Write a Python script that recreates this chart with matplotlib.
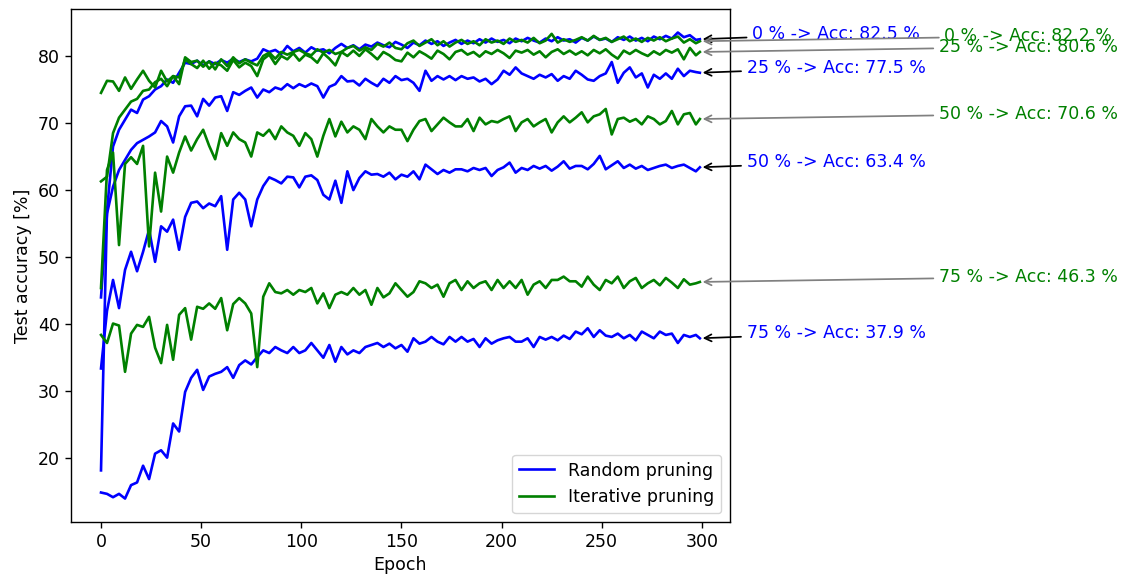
import matplotlib
matplotlib.use("Agg")
import matplotlib.pyplot as plt

# Epochs sampled every 3 epochs plus the final epoch
epochs = list(range(0, 300, 3)) + [299]

random_0 = [
    18.2, 57.0, 66.5, 69.0, 70.5, 72.0, 71.5, 73.5, 74.0, 75.0,
    75.5, 76.5, 76.0, 77.5, 79.0, 78.8, 79.3, 78.6, 79.2, 78.8,
    79.4, 79.0, 79.6, 79.1, 79.5, 79.2, 79.6, 81.0, 80.6, 80.9,
    80.3, 81.5, 80.7, 81.2, 80.5, 81.3, 80.8, 81.0, 80.4, 81.2,
    81.8, 81.2, 81.6, 81.0, 81.7, 81.4, 82.0, 81.6, 81.3, 82.1,
    81.7, 81.2, 82.0, 81.6, 82.3, 81.8, 82.2, 81.5, 82.0, 82.4,
    81.8, 82.3, 81.9, 82.5, 82.0, 82.6, 82.1, 82.4, 81.9, 82.6,
    82.2, 82.7, 82.3, 82.0, 82.6, 82.2, 82.8, 82.3, 82.5, 82.0,
    82.7, 82.3, 82.9, 82.4, 82.6, 82.1, 82.8, 82.4, 82.9, 82.3,
    82.7, 82.2, 82.9, 82.5, 83.0, 82.6, 83.5, 82.8, 83.1, 82.4,
    82.5]
random_25 = [
    44.0, 56.5, 60.5, 63.0, 64.5, 66.0, 67.0, 67.5, 68.0, 68.6,
    70.3, 69.5, 67.1, 71.0, 72.5, 72.6, 71.0, 73.6, 72.6, 73.8,
    74.0, 71.8, 74.6, 74.2, 74.8, 75.3, 73.8, 75.0, 74.6, 75.3,
    75.0, 75.8, 75.2, 75.8, 75.4, 75.9, 75.5, 73.8, 75.4, 75.8,
    77.0, 76.2, 76.3, 75.6, 76.6, 76.0, 75.5, 76.6, 76.0, 77.0,
    76.4, 76.6, 76.0, 74.8, 77.8, 76.3, 77.0, 76.5, 77.0, 76.4,
    77.0, 76.6, 76.8, 76.2, 76.6, 75.8, 76.5, 77.8, 77.2, 78.3,
    77.4, 77.0, 76.6, 77.2, 76.8, 77.3, 76.3, 77.0, 76.6, 77.8,
    77.2, 76.5, 76.3, 77.0, 77.4, 79.1, 76.0, 77.5, 78.3, 76.8,
    77.4, 75.3, 77.2, 76.6, 77.4, 76.6, 78.1, 77.0, 77.8, 77.6,
    77.5]
random_50 = [
    33.4, 42.0, 46.6, 42.4, 48.1, 50.8, 47.9, 50.8, 54.1, 49.3,
    54.6, 53.8, 55.6, 51.1, 56.0, 58.1, 58.3, 57.3, 58.0, 57.6,
    59.1, 51.1, 58.6, 59.6, 58.6, 54.6, 58.6, 60.6, 61.9, 61.5,
    61.0, 62.0, 61.9, 60.4, 62.0, 62.2, 61.5, 59.3, 58.6, 61.4,
    58.1, 62.8, 60.0, 61.8, 62.8, 62.3, 62.4, 62.0, 62.6, 61.6,
    62.3, 62.0, 62.8, 61.6, 63.8, 63.1, 62.4, 63.0, 62.6, 63.1,
    63.1, 62.8, 63.3, 63.0, 63.3, 62.1, 63.0, 63.4, 64.1, 62.6,
    63.3, 63.0, 63.6, 63.2, 63.6, 62.9, 63.5, 64.3, 63.2, 63.6,
    63.6, 63.1, 63.9, 65.1, 63.1, 63.7, 64.3, 63.3, 63.8, 63.2,
    63.6, 63.0, 63.3, 63.6, 63.8, 63.3, 63.6, 63.8, 63.3, 62.8,
    63.4]
random_75 = [
    14.9, 14.7, 14.2, 14.7, 14.0, 16.0, 16.4, 18.9, 16.9, 20.7,
    21.2, 20.1, 25.2, 24.0, 29.9, 32.0, 33.2, 30.2, 32.2, 32.6,
    32.9, 33.6, 32.0, 33.9, 34.6, 34.0, 35.1, 36.1, 35.7, 36.6,
    36.1, 35.7, 36.6, 35.7, 36.1, 37.2, 36.1, 35.0, 36.9, 34.4,
    36.6, 35.5, 36.1, 35.7, 36.6, 36.9, 37.2, 36.6, 37.1, 36.4,
    36.9, 35.9, 37.9, 37.1, 37.4, 38.1, 37.4, 37.0, 38.1, 37.4,
    38.1, 37.4, 37.8, 36.6, 37.9, 37.1, 37.6, 37.9, 38.1, 37.4,
    37.4, 37.9, 36.6, 38.1, 37.7, 38.1, 37.6, 38.3, 37.8, 38.9,
    38.5, 39.4, 38.1, 39.1, 38.3, 38.1, 38.6, 37.9, 38.4, 37.6,
    38.9, 38.4, 37.9, 38.9, 38.4, 38.6, 37.2, 38.4, 38.1, 38.4,
    37.9]

iterative_0 = [
    74.5, 76.3, 76.2, 74.8, 76.8, 75.1, 76.5, 77.8, 76.3, 75.3,
    77.8, 76.2, 77.0, 75.8, 79.8, 79.1, 79.3, 78.4, 79.2, 78.0,
    79.5, 78.5, 79.8, 78.9, 79.5, 79.0, 78.6, 80.0, 80.5, 79.6,
    80.6, 80.2, 80.6, 80.9, 80.4, 80.1, 81.0, 80.5, 80.9, 80.3,
    80.6, 81.2, 81.5, 80.8, 81.3, 80.9, 81.8, 81.4, 82.0, 81.2,
    81.0, 81.9, 82.3, 81.5, 82.0, 82.5, 81.6, 82.2, 81.4, 82.0,
    82.4, 81.8, 82.2, 81.6, 82.5, 82.0, 82.3, 81.8, 82.6, 82.1,
    82.4, 82.0, 82.7, 81.9, 82.3, 83.3, 82.0, 82.5, 82.1, 82.4,
    82.8, 82.3, 83.0, 82.4, 82.7, 82.1, 82.5, 82.9, 82.2, 82.6,
    82.1, 82.7, 82.3, 82.8, 82.2, 82.6, 82.9, 82.0, 82.5, 81.9,
    82.2]
iterative_25 = [
    61.3, 62.0, 68.5, 70.8, 72.0, 73.2, 73.6, 74.8, 75.0, 76.1,
    76.6, 75.5, 77.0, 76.8, 79.5, 78.8, 78.2, 79.3, 78.1, 79.0,
    78.6, 77.8, 79.4, 78.3, 79.0, 78.5, 77.0, 79.5, 80.2, 78.8,
    80.0, 79.5, 80.4, 79.3, 80.2, 79.8, 79.0, 80.4, 79.6, 78.6,
    80.6, 80.0, 80.8, 80.0, 81.0, 80.3, 79.5, 80.6, 80.1, 79.4,
    79.2, 80.5, 79.8, 80.7, 80.2, 79.6, 80.8, 80.3, 79.5, 80.6,
    80.9, 80.2, 80.6, 79.9, 80.7, 80.3, 80.9, 80.4, 79.7, 80.8,
    80.5, 80.9, 80.2, 80.7, 79.8, 80.6, 81.0, 80.3, 80.8, 80.2,
    80.7, 80.1, 80.9, 80.4, 81.0, 80.2, 79.6, 80.8, 80.3, 80.9,
    80.4, 80.0, 80.7, 80.2, 80.9, 80.5, 81.0, 79.5, 81.2, 80.1,
    80.6]
iterative_50 = [
    45.4, 63.0, 65.6, 51.8, 63.9, 64.9, 63.9, 66.6, 51.6, 62.6,
    56.8, 65.0, 62.6, 65.6, 68.0, 65.9, 67.6, 69.0, 66.6, 64.6,
    68.5, 66.6, 68.6, 67.6, 67.1, 65.0, 68.6, 68.1, 69.0, 67.6,
    69.5, 68.6, 68.1, 66.6, 68.5, 67.6, 65.0, 68.1, 70.6, 68.0,
    70.2, 68.6, 69.5, 69.0, 67.6, 70.6, 69.5, 68.6, 69.5, 69.0,
    69.0, 67.3, 69.0, 70.3, 70.6, 68.8, 69.8, 70.8, 70.1, 69.5,
    69.5, 70.6, 68.8, 70.8, 69.8, 70.3, 70.1, 70.6, 71.0, 68.8,
    70.1, 70.6, 69.5, 70.1, 70.6, 68.6, 70.1, 71.0, 70.1, 70.8,
    71.6, 70.1, 71.0, 71.3, 72.1, 68.3, 70.6, 70.8, 70.2, 70.6,
    69.8, 71.0, 70.6, 69.8, 70.3, 71.8, 69.8, 71.3, 71.5, 69.8,
    70.6]
iterative_75 = [
    38.4, 37.2, 40.1, 39.8, 32.9, 38.6, 39.9, 39.6, 41.1, 36.5,
    34.2, 39.9, 34.7, 41.4, 42.4, 37.7, 42.6, 42.3, 43.1, 42.3,
    43.9, 39.1, 43.0, 43.9, 43.1, 41.6, 33.6, 44.1, 46.1, 44.8,
    44.6, 45.1, 44.4, 45.1, 44.8, 45.4, 43.1, 44.6, 42.4, 44.4,
    44.8, 44.4, 45.4, 44.4, 45.1, 42.9, 45.4, 44.0, 44.6, 46.1,
    45.1, 44.1, 44.8, 46.4, 46.1, 45.4, 45.9, 44.1, 46.1, 46.6,
    45.1, 46.4, 45.4, 46.1, 46.4, 45.1, 46.6, 45.4, 46.4, 45.4,
    46.6, 44.4, 45.9, 46.4, 45.4, 46.6, 46.6, 47.1, 46.4, 46.4,
    45.6, 47.1, 45.9, 45.1, 46.6, 46.1, 47.1, 45.4, 46.4, 46.9,
    45.4, 46.1, 46.6, 45.8, 46.9, 46.2, 45.4, 46.7, 45.9, 46.1,
    46.3]

pruning_levels = ["0", "25", "50", "75"]
random_series = [random_0, random_25, random_50, random_75]
iterative_series = [iterative_0, iterative_25, iterative_50, iterative_75]
random_acc = [82.5, 77.5, 63.4, 37.9]
iterative_acc = [82.2, 80.6, 70.6, 46.3]

FS = 12.5

fig = plt.figure(figsize=(11.28, 5.76), dpi=100)
ax = fig.add_axes([0.063, 0.094, 0.584, 0.890])

for i, s in enumerate(random_series):
    ax.plot(epochs, s, color="blue", lw=1.9,
            label="Random pruning" if i == 0 else None)
for i, s in enumerate(iterative_series):
    ax.plot(epochs, s, color="green", lw=1.9,
            label="Iterative pruning" if i == 0 else None)

last_epoch = epochs[-1]
for lvl, acc in zip(pruning_levels, random_acc):
    ax.annotate(f"{lvl} % -> Acc: {acc} %", xy=(last_epoch, acc),
                xytext=(367, acc), ha="center", va="baseline",
                color="blue", fontsize=FS,
                arrowprops=dict(arrowstyle="->", color="black", lw=1.25))
for lvl, acc in zip(pruning_levels, iterative_acc):
    ax.annotate(f"{lvl} % -> Acc: {acc} %", xy=(last_epoch, acc),
                xytext=(463, acc), ha="center", va="baseline",
                color="green", fontsize=FS,
                arrowprops=dict(arrowstyle="->", color="gray", lw=1.25))

ax.set_xlabel("Epoch", fontsize=FS)
ax.set_ylabel("Test accuracy [%]", fontsize=FS)
ax.tick_params(labelsize=FS, width=1.0, length=4.4)
for sp in ax.spines.values():
    sp.set_linewidth(1.0)
ax.legend(loc="lower right", fontsize=FS)

fig.savefig("out.png", dpi=100)
